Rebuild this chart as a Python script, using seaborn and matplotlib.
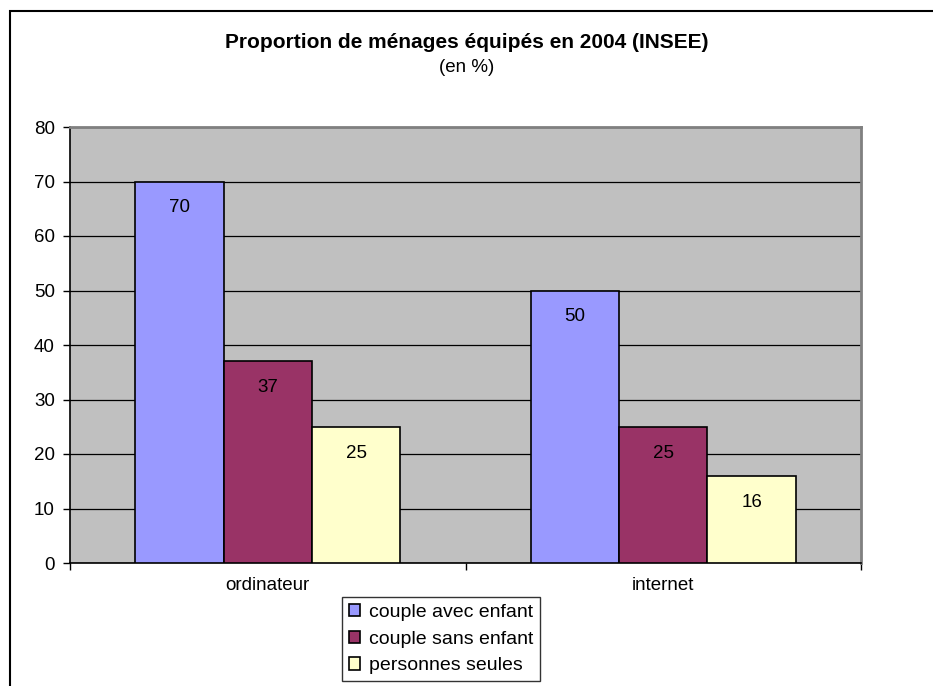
import matplotlib
matplotlib.use("Agg")
import matplotlib.pyplot as plt
import matplotlib.patches as mpatches
import seaborn as sns
import pandas as pd

categories = ["ordinateur", "internet"]
series_names = ["couple avec enfant", "couple sans enfant", "personnes seules"]
couple_avec_enfant = [70, 50]
couple_sans_enfant = [37, 25]
personnes_seules = [25, 16]
yticks = [0, 10, 20, 30, 40, 50, 60, 70, 80]
colors = ["#9999FF", "#993366", "#FFFFCC"]

rows = []
for name, vals in zip(series_names, [couple_avec_enfant, couple_sans_enfant, personnes_seules]):
    for c, v in zip(categories, vals):
        rows.append({"cat": c, "serie": name, "val": v})
df = pd.DataFrame(rows)

sns.set_theme(style="white")
plt.rcParams["font.family"] = ["Liberation Sans", "DejaVu Sans"]
plt.rcParams["text.color"] = "black"
plt.rcParams["xtick.color"] = "black"
plt.rcParams["ytick.color"] = "black"
plt.rcParams["axes.labelcolor"] = "black"

FS = 13.5
W, H = 933, 686
fig = plt.figure(figsize=(W / 100, H / 100), dpi=100)
fig.patch.set_facecolor("white")

# figure border
fig.patches.append(mpatches.Rectangle((10 / W, -0.1), 1.2, 1 - 11 / H + 0.1,
                                      transform=fig.transFigure, fill=False,
                                      edgecolor="black", linewidth=1.5, zorder=0))

ax = fig.add_axes([70 / W, (H - 563) / H, (861 - 70) / W, (563 - 127) / H])
ax.set_facecolor("#C0C0C0")

sns.barplot(data=df, x="cat", y="val", hue="serie", order=categories,
            hue_order=series_names, palette=colors, width=0.67,
            edgecolor="black", linewidth=1.2, saturation=1, ax=ax, legend=False,
            zorder=3)

for p in ax.patches:
    h = p.get_height()
    if h is None or h == 0:
        continue
    ax.annotate(f"{h:.0f}", (p.get_x() + p.get_width() / 2, h),
                xytext=(0, -19), textcoords="offset points",
                ha="center", va="center", fontsize=FS, color="black", zorder=5)

ax.set_ylim(0, 80)
ax.set_xlim(-0.5, len(categories) - 0.5)
ax.set_yticks(yticks)
ax.set_yticklabels([str(t) for t in yticks], fontsize=FS)
ax.yaxis.grid(True, color="#000000", linewidth=0.9)
ax.set_axisbelow(True)
ax.tick_params(axis="y", direction="out", length=5, width=1, color="black",
               labelcolor="black", pad=6, left=True)
ax.set_xticks(range(len(categories)))
ax.set_xticklabels(categories, fontsize=FS)
ax.tick_params(axis="x", which="major", length=0, pad=10, labelcolor="black")
ax.set_xticks([-0.5, 0.5, 1.5], minor=True)
ax.tick_params(axis="x", which="minor", direction="out", length=5, width=1, color="black", bottom=True)
ax.set_xlabel("")
ax.set_ylabel("")

for s in ["left", "bottom"]:
    ax.spines[s].set_color("black")
    ax.spines[s].set_linewidth(1.2)
for s in ["top", "right"]:
    ax.spines[s].set_color("#808080")
    ax.spines[s].set_linewidth(2)

fig.text(467 / W, 1 - 43 / H, "Proportion de ménages équipés en 2004 (INSEE)",
         ha="center", va="center", fontsize=15, fontweight="bold", color="black")
fig.text(467 / W, 1 - 67 / H, "(en %)", ha="center", va="center", fontsize=FS, color="black")

handles = [mpatches.Patch(facecolor=c, edgecolor="black", linewidth=1.2) for c in colors]
leg = fig.legend(handles, series_names, loc="upper left",
                 bbox_to_anchor=(342 / W, 1 - 597 / H), bbox_transform=fig.transFigure,
                 fontsize=14, frameon=True, fancybox=False, handlelength=0.6,
                 handleheight=0.6, handletextpad=0.45, labelspacing=0.5,
                 borderpad=0.35, borderaxespad=0)
leg.get_frame().set_edgecolor("black")
leg.get_frame().set_linewidth(1)
for t in leg.get_texts():
    t.set_color("black")

fig.savefig("out.png", dpi=100)
